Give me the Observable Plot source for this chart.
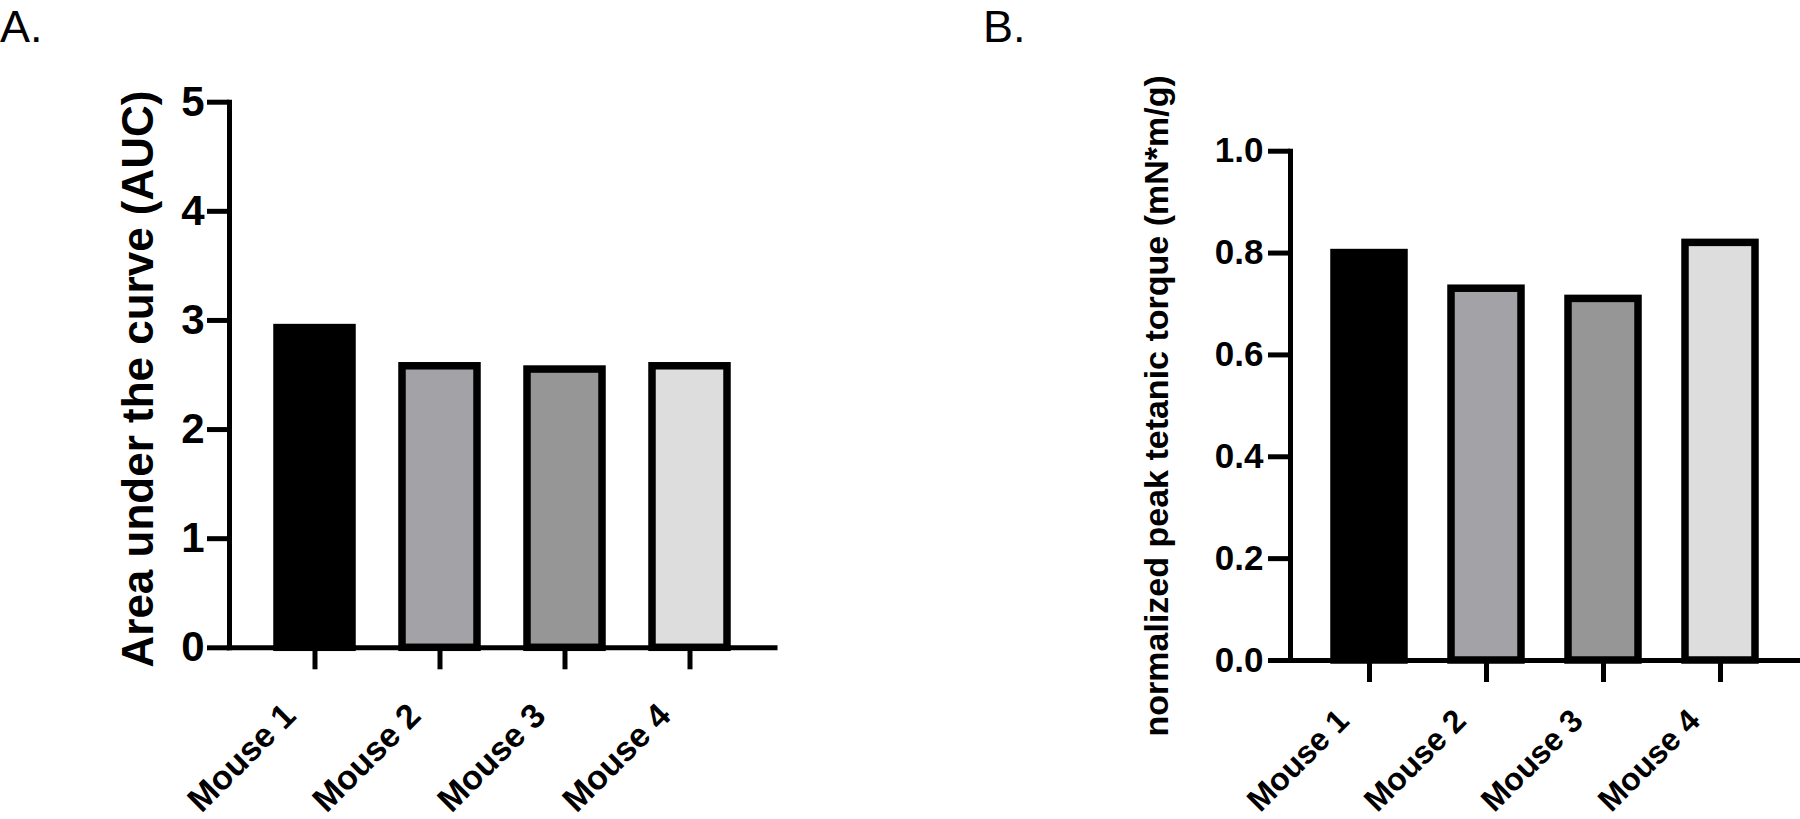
<!DOCTYPE html>
<html>
<head>
<meta charset="utf-8">
<script src="https://cdn.jsdelivr.net/npm/d3@7"></script>
<script src="https://cdn.jsdelivr.net/npm/@observablehq/plot@0.6"></script>
<style>
  body { margin: 0; background: #fff; }
  #wrap { position: relative; width: 1800px; height: 819px; overflow: hidden; background: #fff;
          font-family: "Liberation Sans", Arial, Helvetica, sans-serif; color: #000; }
  .panel { position: absolute; top: 0; width: 900px; height: 819px; }
  .tag { position: absolute; font-size: 45px; line-height: normal; font-weight: normal; }
</style>
</head>
<body>
<div id="wrap">
  <div class="panel" id="panelA" style="left:0"></div>
  <div class="panel" id="panelB" style="left:900px"></div>
  <div class="tag" style="left:0; top:1px">A.</div>
  <div class="tag" style="left:983px; top:1px">B.</div>
</div>
<script>
// ---- data ----
const mice = ["Mouse 1", "Mouse 2", "Mouse 3", "Mouse 4"];
const aucValues = [2.93, 2.58, 2.55, 2.58];
const torqueValues = [0.80, 0.73, 0.71, 0.82];
const barColors = ["#000000", "#a3a2a7", "#969696", "#dddddd"];
const aucTicks = [0, 1, 2, 3, 4, 5];
const torqueTicks = [0, 0.2, 0.4, 0.6, 0.8, 1.0];
const aucLabel = "Area under the curve (AUC)";
const torqueLabel = "normalized peak tetanic torque (mN*m/g)";

const dataA = mice.map((m, i) => ({mouse: m, value: aucValues[i]}));
const dataB = mice.map((m, i) => ({mouse: m, value: torqueValues[i]}));

const font = '"Liberation Sans", Arial, Helvetica, sans-serif';

function panel({data, yDomain, ticks, tickFormat, yFont, xFont, xDx, xPad, label, labelFont, labelDx, labelDy,
                marginLeft, marginRight, marginTop, marginBottom, yPad}) {
  return Plot.plot({
    width: 900,
    height: 819,
    marginLeft, marginRight, marginTop, marginBottom,
    style: {fontFamily: font, background: "transparent", color: "#000", overflow: "visible"},
    x: {domain: mice, paddingInner: 0.4, paddingOuter: 0.37, align: 0.5, axis: null},
    y: {domain: yDomain, axis: null},
    color: {domain: mice, range: barColors},
    marks: [
      Plot.barY(data, {x: "mouse", y: "value", fill: "mouse", stroke: "#000", strokeWidth: 7.5}),
      Plot.ruleY([0], {stroke: "#000", strokeWidth: 5, strokeLinecap: "square"}),
      Plot.frame({anchor: "left", stroke: "#000", strokeWidth: 5}),
      Plot.axisY({ticks, tickFormat, tickSize: 22, tickPadding: yPad, strokeWidth: 5, stroke: "#000",
                  fontSize: yFont, fontWeight: "bold", label: null}),
      Plot.axisX({tickSize: 22, tickPadding: 4, strokeWidth: 5, stroke: "#000",
                  text: null, label: null}),
      Plot.axisX({tickSize: 0, tickPadding: xPad, tickRotate: -45, dx: xDx,
                  fontSize: xFont, fontWeight: "bold", label: null}),
      Plot.text([label], {text: d => d, frameAnchor: "left", rotate: -90, dx: labelDx, dy: labelDy,
                          fontSize: labelFont, fontWeight: "bold", textAnchor: "middle"})
    ]
  });
}

document.getElementById("panelA").append(panel({
  data: dataA, yDomain: [0, 5], ticks: aucTicks, tickFormat: d3.format("d"),
  yFont: 42, xFont: 34, xDx: -25, xPad: 62, label: aucLabel, labelFont: 44, labelDx: -91, labelDy: 4,
  marginLeft: 229, marginRight: 125, marginTop: 101.7, marginBottom: 171.7, yPad: 3
}));

document.getElementById("panelB").append(panel({
  data: dataB, yDomain: [0, 1], ticks: torqueTicks, tickFormat: d3.format(".1f"),
  yFont: 35, xFont: 32, xDx: -26, xPad: 55, label: torqueLabel, labelFont: 34, labelDx: -133, labelDy: 0,
  marginLeft: 390, marginRight: 0, marginTop: 150.7, marginBottom: 159, yPad: 5
}));
</script>
</body>
</html>
